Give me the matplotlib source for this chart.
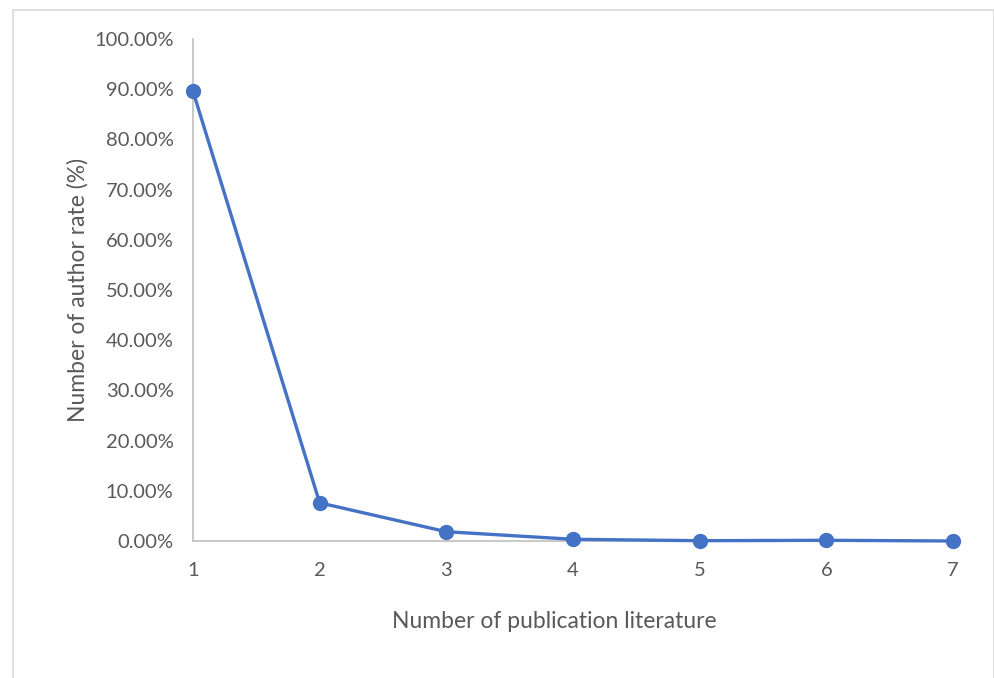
import matplotlib
matplotlib.use("Agg")
import matplotlib.pyplot as plt
from matplotlib.patches import Rectangle
from matplotlib.ticker import FuncFormatter, MultipleLocator

# share of authors by number of publications
publications = [1, 2, 3, 4, 5, 6, 7]
author_rate = [89.6, 7.6, 1.85, 0.34, 0.06, 0.14, 0.0]

plt.rcParams["font.family"] = ["Lato", "DejaVu Sans"]
TXT = "#595959"
AXIS = "#bfbfbf"

fig = plt.figure(figsize=(9.95, 6.78), dpi=100)
ax = fig.add_axes([193 / 995, 137 / 678, 760 / 995, 502 / 678])

ax.plot(publications, author_rate, color="#4472c4", lw=2.4,
        marker="o", ms=10, clip_on=False, zorder=3)

ax.set_xlim(1, 7)
ax.set_ylim(0, 100)
ax.yaxis.set_major_locator(MultipleLocator(10))
ax.yaxis.set_major_formatter(FuncFormatter(lambda v, _: f"{v:.2f}%"))
ax.set_xticks(publications)

for side in ("top", "right"):
    ax.spines[side].set_visible(False)
for side in ("left", "bottom"):
    ax.spines[side].set_color(AXIS)
    ax.spines[side].set_linewidth(1.2)
ax.tick_params(length=0, labelsize=14.5, labelcolor=TXT)
ax.tick_params(axis="x", pad=15)
ax.tick_params(axis="y", pad=14)

ax.set_xlabel("Number of publication literature", fontsize=16.5, color=TXT, labelpad=23)
ax.set_ylabel("Number of author rate (%)", fontsize=16.5, color=TXT, labelpad=4)
ax.xaxis.label.set_x(0.475)

# chart area frame
fig.patches.append(Rectangle((13 / 995, -0.05), 981 / 995, 1.05 - 10 / 678,
                             transform=fig.transFigure, fill=False,
                             edgecolor="#d9d9d9", lw=1.2))

fig.savefig("out.png", dpi=100)
